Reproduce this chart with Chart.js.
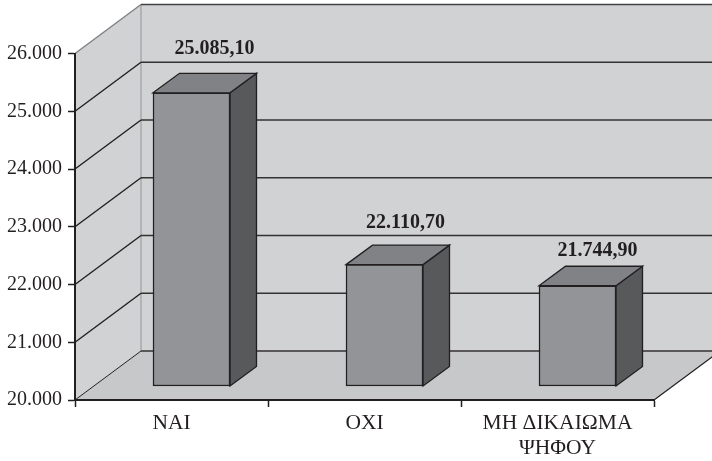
<!DOCTYPE html>
<html><head><meta charset="utf-8">
<style>html,body{margin:0;padding:0;background:#fff}canvas{display:block}</style>
<script src="https://cdn.jsdelivr.net/npm/chart.js@4"></script>
</head><body><canvas id="c" width="712" height="461"></canvas>
<script>
const categories = ["ΝΑΙ", "ΟΧΙ", ["ΜΗ ΔΙΚΑΙΩΜΑ", "ΨΗΦΟΥ"]];
const values = [25085.10, 22110.70, 21744.90];
const valueLabels = ["25.085,10", "22.110,70", "21.744,90"];
const axisMin = 20000, axisMax = 26000, axisStep = 1000;

const INK = '#231f20', FONT = '"Liberation Serif","Times New Roman",serif';
const DEPTH = {x: 66, y: 49};        // wall / floor depth
const BAR_SHIFT = {x: 20, y: 13.5};  // bar front face inside the floor
const BAR_DEPTH = {x: 26.5, y: 19.5};
const LABEL_POS = [{dx: 2.5, dy: -44.5}, {dx: 0.5, dy: -41.5}, {dx: -0.5, dy: -35}];

const fmt = v => String(v).replace(/\B(?=(\d{3})+$)/g, '.');
function poly(ctx, pts, fill, stroke, lw) {
  ctx.beginPath();
  pts.forEach((p, i) => i ? ctx.lineTo(p[0], p[1]) : ctx.moveTo(p[0], p[1]));
  ctx.closePath();
  if (fill) { ctx.fillStyle = fill; ctx.fill(); }
  if (stroke) { ctx.strokeStyle = stroke; ctx.lineWidth = lw || 1; ctx.lineJoin = 'miter'; ctx.stroke(); }
}
function line(ctx, a, b, color, lw) {
  ctx.beginPath(); ctx.moveTo(a[0], a[1]); ctx.lineTo(b[0], b[1]);
  ctx.strokeStyle = color; ctx.lineWidth = lw; ctx.stroke();
}
const box3d = {
  id: 'box3d',
  beforeDraw(chart) {
    const {ctx, chartArea: a, scales: {y}} = chart;
    const W = chart.width;
    ctx.save();
    const top = a.top, bot = a.bottom, L = a.left, R = a.right;
    const bx = L + DEPTH.x;
    poly(ctx, [[L, bot], [bx, bot - DEPTH.y], [bx, top - DEPTH.y], [L, top]], '#d1d2d4');
    poly(ctx, [[bx, top - DEPTH.y], [W, top - DEPTH.y], [W, bot - DEPTH.y], [bx, bot - DEPTH.y]], '#d1d2d4');
    poly(ctx, [[L, bot], [bx, bot - DEPTH.y], [R + DEPTH.x, bot - DEPTH.y], [R, bot]], '#c7c8ca');
    line(ctx, [bx, top - DEPTH.y], [bx, bot - DEPTH.y], '#a7a9ac', 1.5);
    line(ctx, [L, top], [bx, top - DEPTH.y], '#808285', 1.5);
    line(ctx, [bx, top - DEPTH.y], [W, top - DEPTH.y], '#414042', 1.5);
    line(ctx, [R, bot], [R + DEPTH.x, bot - DEPTH.y], INK, 1.2);
    y.ticks.forEach((t, i) => {
      const py = y.getPixelForValue(t.value);
      if (t.value === axisMax) return;
      line(ctx, [L, py], [bx, py - DEPTH.y], INK, t.value === axisMin ? 1 : 1.4);
      line(ctx, [bx, py - DEPTH.y], [W, py - DEPTH.y], '#333132', 1.4);
    });
    ctx.restore();
  },
  beforeDatasetDraw(chart, args) {
    const {ctx} = chart;
    ctx.save();
    ctx.translate(BAR_SHIFT.x, -BAR_SHIFT.y);
    chart.getDatasetMeta(args.index).data.forEach(b => {
      const r = b.x + b.width / 2, l = b.x - b.width / 2;
      const dx = BAR_DEPTH.x, dy = BAR_DEPTH.y;
      poly(ctx, [[r, b.y], [r + dx, b.y - dy], [r + dx, b.base - dy], [r, b.base]], '#58595b', INK, 1.3);
      poly(ctx, [[l, b.y], [l + dx, b.y - dy], [r + dx, b.y - dy], [r, b.y]], '#808285', INK, 1.3);
    });
  },
  afterDatasetDraw(chart) { chart.ctx.restore(); },
  afterDatasetsDraw(chart) {
    const {ctx} = chart;
    ctx.save();
    ctx.fillStyle = INK;
    ctx.font = 'bold 20px ' + FONT;
    ctx.textAlign = 'center';
    ctx.textBaseline = 'middle';
    chart.getDatasetMeta(0).data.forEach((b, i) => {
      const cx = b.x + BAR_SHIFT.x + LABEL_POS[i].dx + 20.5;
      const cy = b.y - BAR_SHIFT.y + LABEL_POS[i].dy;
      ctx.fillText(valueLabels[i], cx, cy);
    });
    ctx.restore();
  }
};
new Chart(document.getElementById('c'), {
  type: 'bar',
  data: {labels: categories, datasets: [{
    data: values, base: axisMin, backgroundColor: '#929497', borderColor: INK,
    borderWidth: 1.5, borderSkipped: false, barThickness: 77, clip: false
  }]},
  plugins: [box3d],
  options: {
    responsive: false, animation: false,
    layout: {padding: {top: 53.5, right: 58, left: 0, bottom: 0}},
    plugins: {legend: {display: false}, tooltip: {enabled: false}, title: {display: false}},
    scales: {
      x: {
        offset: true,
        afterFit(s) { s.height = 61; },
        grid: {offset: true, drawOnChartArea: false, drawTicks: true, tickLength: 7, tickColor: INK, tickWidth: 1.5},
        border: {color: INK, width: 2},
        ticks: {color: INK, font: {family: FONT, size: 21.5}, padding: 3, maxRotation: 0, autoSkip: false}
      },
      y: {
        min: axisMin, max: axisMax,
        afterFit(s) { s.width = 75; },
        grid: {drawOnChartArea: false, drawTicks: true, tickLength: 7, tickColor: INK, tickWidth: 1.5},
        border: {color: INK, width: 2},
        ticks: {stepSize: axisStep, color: INK, font: {family: FONT, size: 20}, padding: 6, callback: v => fmt(v)}
      }
    }
  }
});
</script></body></html>
